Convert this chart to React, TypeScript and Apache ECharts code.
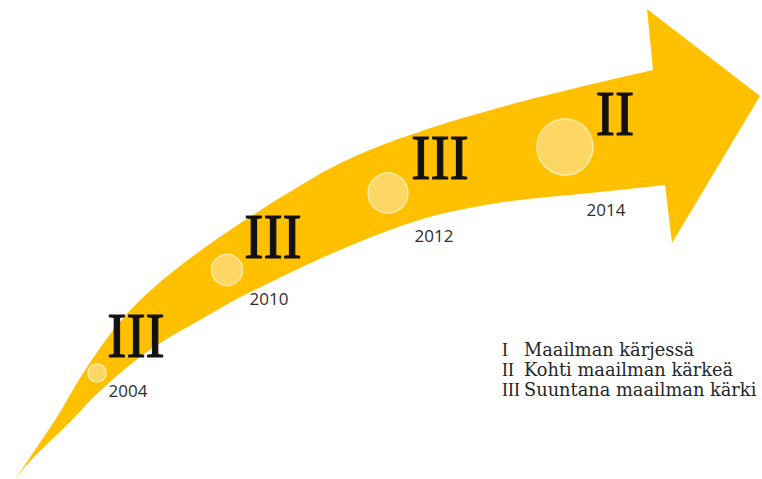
import React, { useEffect, useRef } from "react";
import * as echarts from "echarts";

// ---- data ----
const years = ["2004", "2010", "2012", "2014"];
const stages = ["III", "III", "III", "II"];
const legendNumerals = ["I", "II", "III"];
const legendLabels = ["Maailman kärjessä", "Kohti maailman kärkeä", "Suuntana maailman kärki"];

// ---- layout (canvas units, mapped through hidden axes) ----
const W = 762;
const H = 479;
const circleX = [97, 227, 388, 565];
const circleY = [373, 270, 193, 147];
const circleR = [9, 15.5, 20, 28];
const stageX = [136, 273, 440, 615];
const stageY = [335, 236, 157, 113];
const yearX = [128, 269, 434, 606];
const yearY = [390, 298, 235, 209];

const upperEdge = [
  [16, 478], [57, 417], [77, 383], [100, 348], [125, 316], [150, 291], [175, 270],
  [200, 251], [227, 232], [250, 217], [270, 204], [293, 190], [327, 170], [360, 154],
  [393, 141], [413, 134], [440, 125], [470, 116], [520, 102], [580, 87], [653, 70],
];
const headPoints = [[647, 9], [760, 96], [672, 243]];
const lowerEdge = [
  [665, 185], [600, 192], [520, 200], [480, 206], [433, 216], [387, 231], [340, 250],
  [300, 268], [267, 284], [233, 301], [200, 320], [170, 337], [140, 357], [100, 391],
  [70, 422], [33, 458], [16, 478],
];

function smoothSegs(pts: number[][]): string {
  let d = "";
  for (let i = 0; i < pts.length - 1; i++) {
    const p0 = pts[i - 1] || pts[i];
    const p1 = pts[i];
    const p2 = pts[i + 1];
    const p3 = pts[i + 2] || p2;
    const c1 = [p1[0] + (p2[0] - p0[0]) / 6, p1[1] + (p2[1] - p0[1]) / 6];
    const c2 = [p2[0] - (p3[0] - p1[0]) / 6, p2[1] - (p3[1] - p1[1]) / 6];
    d += ` C ${c1[0]} ${c1[1]} ${c2[0]} ${c2[1]} ${p2[0]} ${p2[1]}`;
  }
  return d;
}

export default function App() {
  const ref = useRef<HTMLDivElement>(null);
  useEffect(() => {
    if (!ref.current) return;
    const chart = echarts.init(ref.current, undefined, { renderer: "svg" });
    chart.setOption({
      animation: false,
      backgroundColor: "#ffffff",
      grid: { left: 0, right: 0, top: 0, bottom: 0 },
      xAxis: { type: "value", min: 0, max: W, show: false },
      yAxis: { type: "value", min: 0, max: H, inverse: true, show: false },
      series: [
        {
          type: "custom",
          clip: false,
          silent: true,
          data: [[0, 0]],
          renderItem: (_p: any, api: any) => {
            const up = upperEdge.map((p) => api.coord(p));
            const lo = lowerEdge.map((p) => api.coord(p));
            const hd = headPoints.map((p) => api.coord(p));
            let d = `M ${up[0][0]} ${up[0][1]}` + smoothSegs(up);
            hd.forEach((p: number[]) => (d += ` L ${p[0]} ${p[1]}`));
            d += ` L ${lo[0][0]} ${lo[0][1]}` + smoothSegs(lo) + " Z";
            return { type: "path", shape: { pathData: d }, style: { fill: "#FFC000" } };
          },
        },
        {
          type: "custom",
          clip: false,
          silent: true,
          data: years.map((y, i) => [circleX[i], circleY[i], i]),
          renderItem: (params: any, api: any) => {
            const i = params.dataIndex;
            const c = api.coord([circleX[i], circleY[i]]);
            const s = api.coord([stageX[i], stageY[i]]);
            const yv = api.coord([yearX[i], yearY[i]]);
            return {
              type: "group",
              children: [
                {
                  type: "circle",
                  shape: { cx: c[0], cy: c[1], r: circleR[i] },
                  style: { fill: "#FDD663", stroke: "#FFEBA8", lineWidth: 1.5 },
                },
                {
                  type: "text",
                  x: s[0],
                  y: s[1],
                  scaleX: 0.9,
                  style: {
                    text: stages[i],
                    fill: "#111111",
                    stroke: "#111111",
                    lineWidth: 1.2,
                    fontFamily: "Liberation Serif",
                    fontSize: 64,
                    align: "center",
                    verticalAlign: "middle",
                  },
                },
                {
                  type: "text",
                  x: yv[0],
                  y: yv[1],
                  style: {
                    text: years[i],
                    fill: "#2e2e2e",
                    fontFamily: "Open Sans",
                    fontSize: 17,
                    align: "center",
                    verticalAlign: "middle",
                  },
                },
              ],
            };
          },
        },
      ],
      graphic: legendNumerals.flatMap((n, i) => [
        {
          type: "text",
          x: 502,
          y: 349.5 + i * 20,
          style: {
            text: n,
            fill: "#262626",
            fontFamily: "Liberation Serif",
            fontSize: 18,
            align: "left",
            verticalAlign: "middle",
          },
        },
        {
          type: "text",
          x: 524,
          y: 349.5 + i * 20,
          style: {
            text: legendLabels[i],
            fill: "#262626",
            fontFamily: "DejaVu Serif",
            fontSize: 17.8,
            align: "left",
            verticalAlign: "middle",
          },
        },
      ]),
    });
    return () => chart.dispose();
  }, []);
  return (
    <div
      ref={ref}
      style={{ position: "fixed", left: 0, top: 0, width: W, height: H }}
    />
  );
}
